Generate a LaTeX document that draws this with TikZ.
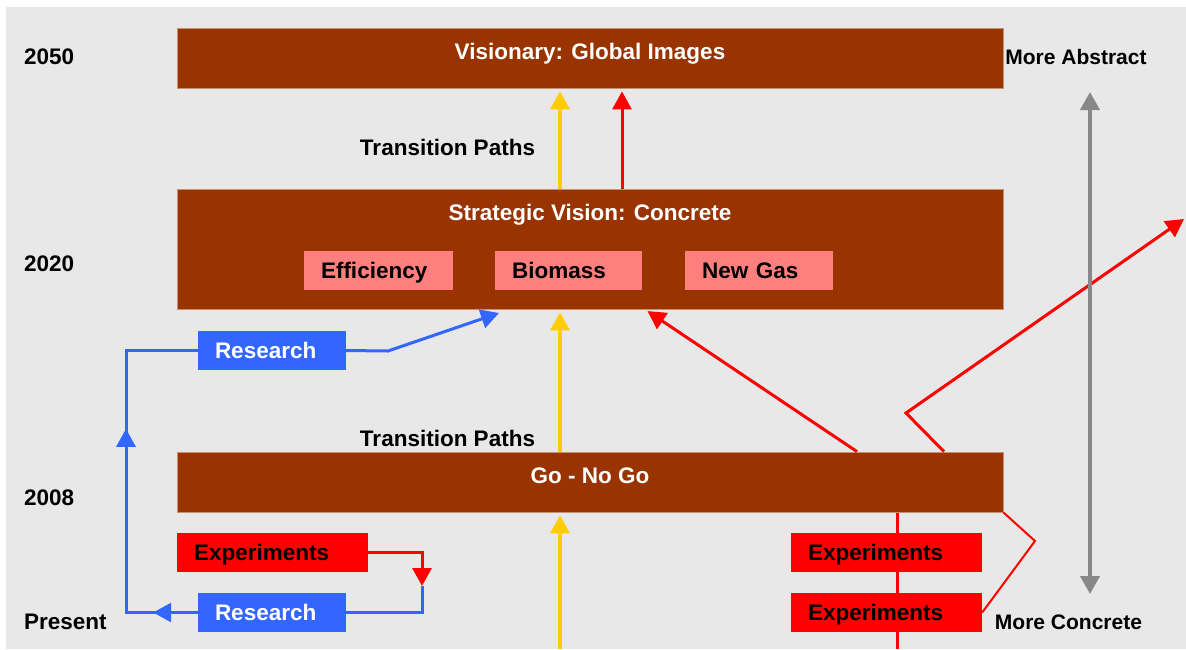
\documentclass[tikz,border=0pt]{standalone}
\usepackage{fontspec}
\setmainfont{Liberation Sans}
\usetikzlibrary{arrows.meta,positioning,decorations.markings}

\definecolor{stagebrown}{HTML}{993300}
\definecolor{stageedge}{HTML}{C8906E}
\definecolor{optionpink}{HTML}{FF7F7F}
\definecolor{labred}{HTML}{FF0000}
\definecolor{resblue}{HTML}{3366FF}
\definecolor{pathyellow}{HTML}{FFCC00}
\definecolor{scalegray}{HTML}{888888}
\definecolor{paper}{HTML}{E8E8E8}

\newcommand\diafont{\bfseries\fontsize{22.5}{26}\selectfont}

\pgfdeclarelayer{back}
\pgfsetlayers{back,main}

\tikzset{
	stage/.style={fill=stagebrown, draw=stageedge, line width=0.8pt, minimum width=826pt, inner sep=0pt},
	stagetitle/.style={text=white, font=\diafont, inner sep=0pt, text height=18pt, text depth=2pt},
	scaletext/.style={font=\bfseries\fontsize{21}{24}\selectfont, inner sep=0pt, text height=17pt, text depth=2pt},
	yeartext/.style={font=\diafont, anchor=west, inner sep=0pt, text height=18pt, text depth=2pt},
	tagbox/.style={font=\diafont, text height=18pt, text depth=2pt, minimum height=39pt,
		inner xsep=17pt, inner ysep=0pt, text width=#1, align=left},
	option/.style={tagbox=#1, fill=optionpink},
	experiment/.style={tagbox=157pt, fill=labred},
	research/.style={tagbox=114pt, fill=resblue, text=white},
	tip/.style={-{Triangle[width=19pt,length=18pt]}},
	yellowpath/.style={tip, draw=pathyellow, line width=3.5pt},
	redpath/.style={tip, draw=labred, line width=3pt},
	bluepath/.style={draw=resblue, line width=3pt},
}

\begin{document}
\begin{tikzpicture}[x=1pt,y=-1pt]
	\useasboundingbox (0,0) rectangle (1186,649);
	\begin{pgfonlayer}{back}
		\fill[paper] (6,7) rectangle (1186,649);
	\end{pgfonlayer}

	% stages
	\node[stage, minimum height=60pt] (visionary) at (590,58) {};
	\node[stage, minimum height=120pt] (strategic) at (590,249) {};
	\node[stage, minimum height=60pt] (gonogo) at (590,482) {};
	\node[stagetitle] (visionarytitle) at (590,51) {Visionary: Global Images};
	\node[stagetitle] (strategictitle) at (590,212) {Strategic Vision: Concrete};
	\node[stagetitle] (gonogotitle) at (590,475) {Go - No Go};

	\node[option=115pt] (efficiency) at (378.5,270.5) {Efficiency};
	\node[option=113pt] (biomass) at (568.5,270.5) {Biomass};
	\node[option=114pt] (newgas) at (759,270.5) {New Gas};

	% time axis
	\node[yeartext] (y2050) at (24,56) {2050};
	\node[yeartext] (y2020) at (24,263) {2020};
	\node[yeartext] (y2008) at (24,497) {2008};
	\node[yeartext] (present) at (24,621) {Present};
	\node[stagetitle, text=black] (transtop) at (447.5,147) {Transition Paths};
	\node[stagetitle, text=black] (transmid) at (447.5,438) {Transition Paths};
	\node[scaletext] (abstract) at (1076,57) {More Abstract};
	\node[scaletext] (concrete) at (1068.5,622) {More Concrete};

	% projects
	\node[research] (researchup) at (272,350.5) {Research};
	\node[research] (researchlow) at (272,612.5) {Research};
	\node[experiment] (explow) at (272.5,552.5) {Experiments};
	\node[experiment] (expright) at (886.5,552.5) {Experiments};
	\node[experiment] (exprightlow) at (886.5,612.5) {Experiments};

	\coordinate (ycol) at (560,649);
	\coordinate (rcol) at (622,0);
	\coordinate (fromgo) at (857,0);
	\coordinate (intostrat) at (645,0);
	\coordinate (zigstart) at (944,0);
	\coordinate (zigbend) at (906,413);
	\coordinate (offpage) at (1184,219);
	\coordinate (redline) at (897,649);
	\coordinate (kink) at (1035,541);
	\coordinate (drop) at (422,586);
	\coordinate (bluebend) at (388,351);
	\coordinate (bluetip) at (499,313);
	\coordinate (loopcorner) at (126,612.5);
	\coordinate (abstracttop) at (1090,92);
	\coordinate (concretebottom) at (1090,594);

	% transition paths
	\draw[yellowpath, shorten >=3pt] (strategic.north -| ycol) -- (visionary.south -| ycol);
	\draw[yellowpath, shorten >=3pt] (gonogo.north -| ycol) -- (strategic.south -| ycol);
	\draw[yellowpath, shorten >=3pt] (ycol) -- (gonogo.south -| ycol);
	\draw[redpath, shorten >=3pt] (strategic.north -| rcol) -- (visionary.south -| rcol);
	\draw[redpath, shorten >=3pt] (gonogo.north -| fromgo) -- (strategic.south -| intostrat);
	\draw[redpath] (gonogo.north -| zigstart) -- (zigbend) -- (offpage);
	\begin{pgfonlayer}{back}
		\draw[labred, line width=3pt] (gonogo.south -| redline) -- (redline);
	\end{pgfonlayer}
	\draw[labred, line width=2pt] (gonogo.south east) -- (kink) -- (exprightlow.east);

	% research loop
	\draw[bluepath] (researchlow.east) -| (drop);
	\draw[redpath] (explow.east) -| (drop);
	\draw[bluepath, tip] (researchup.east) -- (bluebend) -- (bluetip);
	\draw[bluepath, postaction={decorate}, decoration={markings,
		mark=at position 0.11 with {\arrow{Triangle[width=19pt,length=18pt]}},
		mark=at position 0.63 with {\arrow{Triangle[width=19pt,length=18pt]}}}]
		(researchlow.west) -- (loopcorner) |- (researchup.west);

	% abstraction scale
	\draw[scalegray, line width=4pt, {Triangle[width=19pt,length=18pt]}-{Triangle[width=19pt,length=18pt]}]
		(abstracttop) -- (concretebottom);
\end{tikzpicture}
\end{document}
